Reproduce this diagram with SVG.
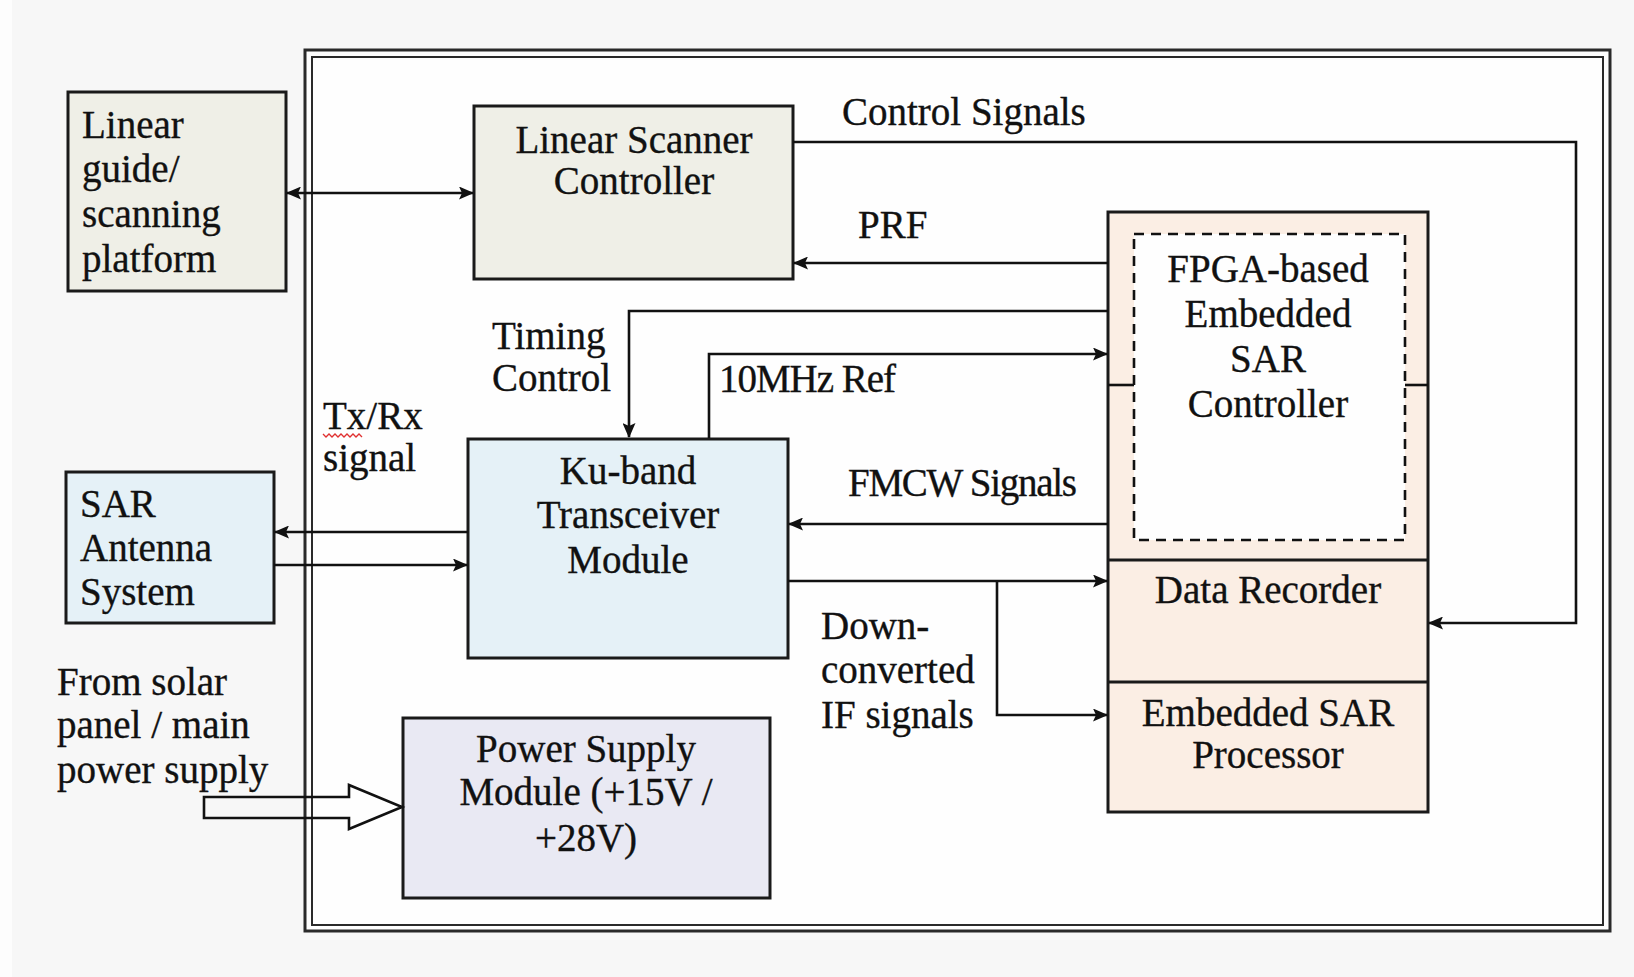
<svg xmlns="http://www.w3.org/2000/svg" width="1634" height="977" viewBox="0 0 1634 977">
  <style>
    .box { stroke: #1a1a1a; stroke-width: 3; }
    .beige { fill: #efefe7; }
    .blue { fill: #e5f1f7; }
    .lav { fill: #e9e9f3; }
    .peach { fill: #fbeee4; }
    .t { font-family: "Liberation Serif", "Times New Roman", serif; font-size: 39px; fill: #111; stroke: #111; stroke-width: 0.35; }
    .c { text-anchor: middle; }
    .wire { fill: none; stroke: #111; stroke-width: 2.6; }
  </style>
  <defs>
    <marker id="ah" viewBox="0 0 15 13" refX="14" refY="6.5" markerWidth="15" markerHeight="13" markerUnits="userSpaceOnUse" orient="auto">
      <path d="M0,0 L15,6.5 L0,13 L3,6.5 Z" fill="#111"/>
    </marker>
    <marker id="ahs" viewBox="0 0 15 13" refX="1" refY="6.5" markerWidth="15" markerHeight="13" markerUnits="userSpaceOnUse" orient="auto">
      <path d="M15,0 L0,6.5 L15,13 L12,6.5 Z" fill="#111"/>
    </marker>
  </defs>

  <!-- page -->
  <rect x="0" y="0" width="1634" height="977" fill="#f7f7f7"/>
  <rect x="0" y="0" width="12" height="977" fill="#fdfdfd"/>

  <!-- system enclosure: double frame -->
  <g id="enclosure">
    <rect x="305" y="50" width="1305" height="881" fill="#fefefe" stroke="#2a2a2a" stroke-width="3"/>
    <rect x="312" y="57" width="1291" height="868" fill="none" stroke="#2a2a2a" stroke-width="2"/>
  </g>

  <g id="linear-guide">
    <rect class="box beige" x="68" y="92" width="218" height="199"/>
    <text class="t" x="82" y="138">Linear</text>
    <text class="t" x="82" y="182">guide/</text>
    <text class="t" x="82" y="227">scanning</text>
    <text class="t" x="82" y="272">platform</text>
  </g>

  <g id="scanner-controller">
    <rect class="box beige" x="474" y="106" width="319" height="173"/>
    <text class="t c" x="634" y="153">Linear Scanner</text>
    <text class="t c" x="634" y="194">Controller</text>
  </g>

  <g id="sar-antenna">
    <rect class="box blue" x="66" y="472" width="208" height="151"/>
    <text class="t" x="80" y="517">SAR</text>
    <text class="t" x="80" y="561">Antenna</text>
    <text class="t" x="80" y="605">System</text>
  </g>

  <g id="transceiver">
    <rect class="box blue" x="468" y="439" width="320" height="219"/>
    <text class="t c" x="628" y="484">Ku-band</text>
    <text class="t c" x="628" y="528">Transceiver</text>
    <text class="t c" x="628" y="573">Module</text>
  </g>

  <g id="power-supply">
    <rect class="box lav" x="403" y="718" width="367" height="180"/>
    <text class="t c" x="586" y="762">Power Supply</text>
    <text class="t c" x="586" y="805">Module (+15V /</text>
    <text class="t c" x="586" y="851">+28V)</text>
  </g>

  <g id="sar-controller">
    <rect class="box peach" x="1108" y="212" width="320" height="600"/>
    <rect x="1134" y="234" width="271" height="306" fill="#fefefe" stroke="#111" stroke-width="2.6" stroke-dasharray="10 7"/>
    <line x1="1108" y1="385" x2="1134" y2="385" stroke="#111" stroke-width="2.6"/>
    <line x1="1405" y1="385" x2="1428" y2="385" stroke="#111" stroke-width="2.6"/>
    <text class="t c" x="1268" y="282">FPGA-based</text>
    <text class="t c" x="1268" y="327">Embedded</text>
    <text class="t c" x="1268" y="372">SAR</text>
    <text class="t c" x="1268" y="417">Controller</text>
  </g>

  <g id="data-recorder">
    <line x1="1108" y1="560" x2="1428" y2="560" stroke="#1a1a1a" stroke-width="3"/>
    <text class="t c" x="1268" y="603">Data Recorder</text>
  </g>

  <g id="sar-processor">
    <line x1="1108" y1="682" x2="1428" y2="682" stroke="#1a1a1a" stroke-width="3"/>
    <text class="t c" x="1268" y="726">Embedded SAR</text>
    <text class="t c" x="1268" y="768">Processor</text>
  </g>

  <g id="connectors">
    <!-- guide <-> scanner controller -->
    <line class="wire" x1="287" y1="193" x2="473" y2="193" marker-start="url(#ahs)" marker-end="url(#ah)"/>
    <!-- control signals to data recorder -->
    <polyline class="wire" points="793,142 1576,142 1576,623 1429,623" marker-end="url(#ah)"/>
    <!-- PRF -->
    <line class="wire" x1="1108" y1="263" x2="794" y2="263" marker-end="url(#ah)"/>
    <!-- timing control -->
    <polyline class="wire" points="1108,311 629,311 629,437" marker-end="url(#ah)"/>
    <!-- 10 MHz reference -->
    <polyline class="wire" points="709,438 709,354 1107,354" marker-end="url(#ah)"/>
    <!-- FMCW -->
    <line class="wire" x1="1108" y1="524" x2="789" y2="524" marker-end="url(#ah)"/>
    <!-- down-converted IF -->
    <line class="wire" x1="788" y1="581" x2="1107" y2="581" marker-end="url(#ah)"/>
    <polyline class="wire" points="997,581 997,715 1107,715" marker-end="url(#ah)"/>
    <!-- Tx/Rx -->
    <line class="wire" x1="468" y1="532" x2="275" y2="532" marker-end="url(#ah)"/>
    <line class="wire" x1="274" y1="565" x2="467" y2="565" marker-end="url(#ah)"/>
    <!-- power input block arrow -->
    <path d="M204,797 L349,797 L349,785 L402,807 L349,829 L349,818 L204,818 Z" fill="none" stroke="#111" stroke-width="2.6" stroke-linejoin="miter"/>
  </g>

  <g id="labels">
    <text class="t" x="842" y="125">Control Signals</text>
    <text class="t" x="858" y="238">PRF</text>
    <text class="t" x="492" y="349">Timing</text>
    <text class="t" x="492" y="391">Control</text>
    <text class="t" x="719" y="392" textLength="177">10MHz Ref</text>
    <text class="t" x="323" y="429">Tx/Rx</text>
    <path d="M323,434 l3,3 l3,-3 l3,3 l3,-3 l3,3 l3,-3 l3,3 l3,-3 l3,3 l3,-3 l3,3 l3,-3 l3,3" fill="none" stroke="#e03030" stroke-width="1.3"/>
    <text class="t" x="323" y="471">signal</text>
    <text class="t" x="848" y="496" textLength="229">FMCW Signals</text>
    <text class="t" x="821" y="639">Down-</text>
    <text class="t" x="821" y="683">converted</text>
    <text class="t" x="821" y="728">IF signals</text>
    <text class="t" x="57" y="695">From solar</text>
    <text class="t" x="57" y="738">panel / main</text>
    <text class="t" x="57" y="783">power supply</text>
  </g>
</svg>
